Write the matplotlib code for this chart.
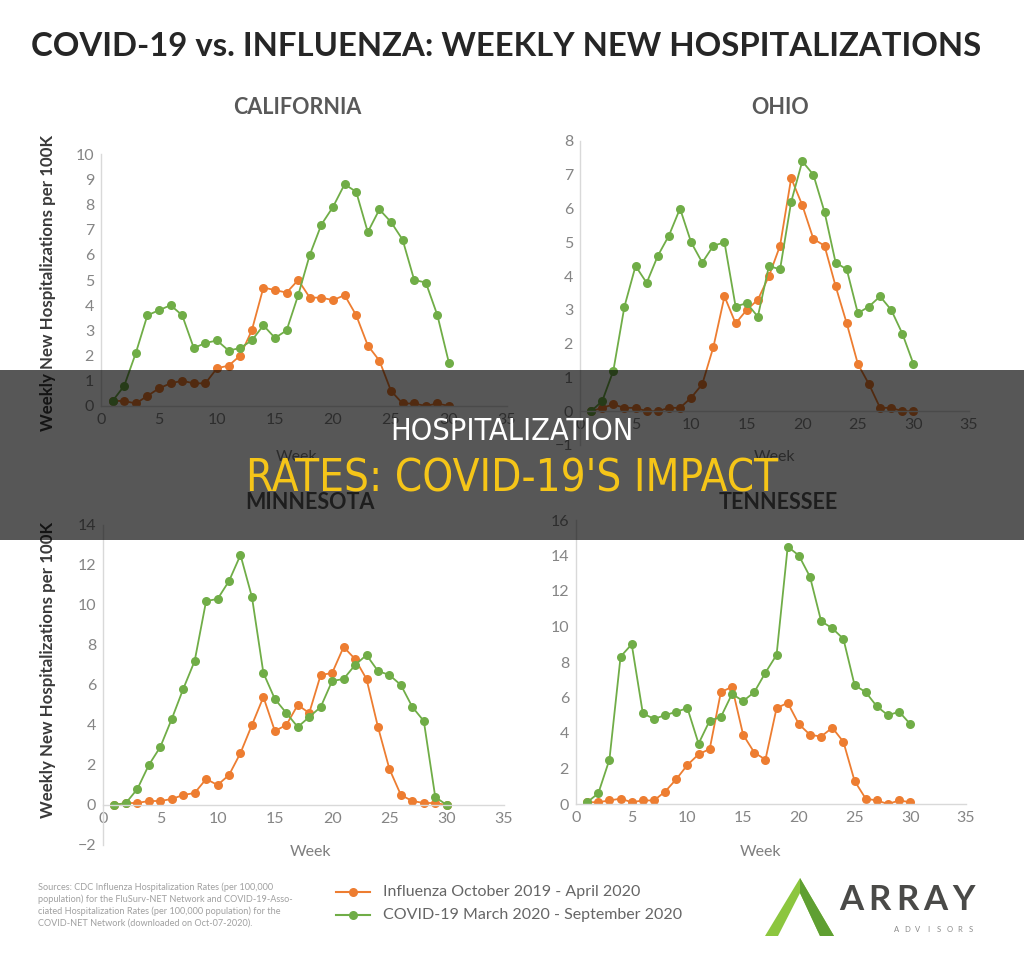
import numpy as np
import matplotlib.pyplot as plt
from matplotlib.patches import Rectangle, Polygon

# data (weeks 1..30)
weeks = list(range(1, 31))

ca_flu = [0.2, 0.2, 0.1, 0.4, 0.7, 0.9, 1.0, 0.9, 0.9, 1.5, 1.6, 2.0, 3.0, 4.7, 4.6,
          4.5, 5.0, 4.3, 4.3, 4.2, 4.4, 3.6, 2.4, 1.8, 0.6, 0.1, 0.1, 0.0, 0.1, 0.0]
ca_covid = [0.2, 0.8, 2.1, 3.6, 3.8, 4.0, 3.6, 2.3, 2.5, 2.6, 2.2, 2.3, 2.6, 3.2, 2.7,
            3.0, 4.4, 6.0, 7.2, 7.9, 8.8, 8.5, 6.9, 7.8, 7.3, 6.6, 5.0, 4.9, 3.6, 1.7]

oh_flu = [0.0, 0.1, 0.2, 0.1, 0.1, 0.0, 0.0, 0.1, 0.1, 0.4, 0.8, 1.9, 3.4, 2.6, 3.0,
          3.3, 4.0, 4.9, 6.9, 6.1, 5.1, 4.9, 3.7, 2.6, 1.4, 0.8, 0.1, 0.1, 0.0, 0.0]
oh_covid = [0.0, 0.3, 1.2, 3.1, 4.3, 3.8, 4.6, 5.2, 6.0, 5.0, 4.4, 4.9, 5.0, 3.1, 3.2,
            2.8, 4.3, 4.2, 6.2, 7.4, 7.0, 5.9, 4.4, 4.2, 2.9, 3.1, 3.4, 3.0, 2.3, 1.4]

mn_flu = [0.0, 0.1, 0.1, 0.2, 0.2, 0.3, 0.5, 0.6, 1.3, 1.0, 1.5, 2.6, 4.0, 5.4, 3.7,
          4.0, 5.0, 4.6, 6.5, 6.6, 7.9, 7.3, 6.3, 3.9, 1.8, 0.5, 0.2, 0.1, 0.1, 0.0]
mn_covid = [0.0, 0.1, 0.8, 2.0, 2.9, 4.3, 5.8, 7.2, 10.2, 10.3, 11.2, 12.5, 10.4, 6.6, 5.3,
            4.6, 3.9, 4.4, 4.9, 6.2, 6.3, 7.0, 7.5, 6.7, 6.5, 6.0, 4.9, 4.2, 0.4, 0.0]

tn_flu = [0.1, 0.1, 0.2, 0.3, 0.1, 0.2, 0.2, 0.7, 1.4, 2.2, 2.8, 3.1, 6.3, 6.6, 3.9,
          2.9, 2.5, 5.4, 5.7, 4.5, 3.9, 3.8, 4.3, 3.5, 1.3, 0.3, 0.2, 0.0, 0.2, 0.1]
tn_covid = [0.1, 0.6, 2.5, 8.3, 9.0, 5.1, 4.8, 5.0, 5.2, 5.4, 3.4, 4.7, 4.9, 6.2, 5.8,
            6.3, 7.4, 8.4, 14.5, 14.0, 12.8, 10.3, 9.9, 9.3, 6.7, 6.3, 5.5, 5.0, 5.2, 4.5]

states = ['CALIFORNIA', 'OHIO', 'MINNESOTA', 'TENNESSEE']
flu_label = 'Influenza October 2019 - April 2020'
covid_label = 'COVID-19 March 2020 - September 2020'

ORANGE = '#ED7D31'
GREEN = '#70AD47'
W, H = 1024, 976
FONT = ['Lato', 'DejaVu Sans']

plt.rcParams['font.family'] = FONT

fig = plt.figure(figsize=(W / 100, H / 100), dpi=100)
fig.patch.set_facecolor('white')


def px(x, y):
    # pixel position -> figure fraction
    return x / W, 1 - y / H


def axes_at(x0, x1, ytop, ybot):
    l, t = px(x0, ytop)
    r, b = px(x1, ybot)
    return fig.add_axes([l, b, r - l, t - b])


def panel(ax, flu, covid, ylim, ystep):
    ax.plot(weeks, flu, color=ORANGE, lw=1.3, marker='o', ms=6.5, mew=0)
    ax.plot(weeks, covid, color=GREEN, lw=1.3, marker='o', ms=6.5, mew=0)
    ax.set_xlim(0, 35)
    ax.set_ylim(*ylim)
    ax.set_xticks(range(0, 36, 5))
    ax.set_yticks(np.arange(ylim[0], ylim[1] + 0.1, ystep))
    for s in ['top', 'right']:
        ax.spines[s].set_visible(False)
    ax.spines['bottom'].set_position(('data', 0))
    for s in ['bottom', 'left']:
        ax.spines[s].set_color('#d9d9d9')
        ax.spines[s].set_linewidth(1)
    ax.tick_params(length=0, labelsize=11.5, labelcolor='#858585', pad=5)
    ax.patch.set_alpha(0)


ax1 = axes_at(101, 507, 154, 406)
panel(ax1, ca_flu, ca_covid, (0, 10), 1)
ax2 = axes_at(580, 969, 141, 445)
panel(ax2, oh_flu, oh_covid, (-1, 8), 1)
ax3 = axes_at(103, 504, 525, 845)
panel(ax3, mn_flu, mn_covid, (-2, 14), 2)
ax4 = axes_at(576, 966, 520, 804)
panel(ax4, tn_flu, tn_covid, (0, 16), 2)

# titles
fig.text(*px(506, 47), 'COVID-19 vs. INFLUENZA: WEEKLY NEW HOSPITALIZATIONS',
         ha='center', va='center', fontsize=23.7, fontweight='bold', color='#262626')
for name, (x, y) in zip(states, [(297, 107), (780, 107), (310, 502), (778, 502)]):
    fig.text(*px(x, y), name, ha='center', va='center', fontsize=15.5,
             fontweight='bold', color='#595959')

for x, y in [(296, 457), (775, 457), (310, 852), (760, 852)]:
    fig.text(*px(x, y), 'Week', ha='center', va='center', fontsize=11.5, color='#7f7f7f')

for y in [283, 670]:
    fig.text(*px(48, y), 'Weekly New Hospitalizations per 100K', rotation=90,
             ha='center', va='center', fontsize=12.2, fontweight='bold', color='#3a3a3a')

# sources
fig.text(*px(38, 882), 'Sources: CDC Influenza Hospitalization Rates (per 100,000\n'
         'population) for the FluSurv-NET Network and COVID-19-Asso-\n'
         'ciated Hospitalization Rates (per 100,000 population) for the\n'
         'COVID-NET Network (downloaded on Oct-07-2020).',
         ha='left', va='top', fontsize=6.6, color='#a0a0a0', linespacing=1.35)

# legend
lax = fig.add_axes([0, 0, 1, 1], zorder=-1)
lax.set_xlim(0, W)
lax.set_ylim(H, 0)
lax.axis('off')
for lab, col, y in [(flu_label, ORANGE, 892), (covid_label, GREEN, 915)]:
    lax.plot([336, 370], [y, y], color=col, lw=1.5)
    lax.plot([353], [y], 'o', color=col, ms=6.5, mew=0)
    lax.text(383, y, lab, ha='left', va='center', fontsize=11.5, color='#666666')

# logo
lax.add_patch(Polygon([(765, 936), (800, 878), (834, 936), (820, 936), (800, 893), (778, 936)],
                      closed=True, color='#8cc63f', lw=0))
lax.add_patch(Polygon([(800, 893), (800, 878), (834, 936), (820, 936)],
                      closed=True, color='#5f9f32', lw=0))
for i, ch in enumerate('ARRAY'):
    lax.text(851 + 28 * i, 900, ch, ha='center', va='center', fontsize=25,
             fontweight='bold', color='#4a4a48')
for i, ch in enumerate('ADVISORS'):
    lax.text(897 + 10.5 * i, 929, ch, ha='center', va='center', fontsize=5.5,
             color='#8a8a8a')

# dark banner over the middle
fig.add_artist(Rectangle(px(0, 540), 1, 170 / H, transform=fig.transFigure,
                         facecolor='black', alpha=0.66, lw=0, zorder=10))
fig.text(*px(512, 432), 'HOSPITALIZATION', ha='center', va='center', fontsize=22,
         color='white', family='DejaVu Sans', fontstretch='condensed', zorder=11)
fig.text(*px(512, 479), "RATES: COVID-19'S IMPACT", ha='center', va='center', fontsize=31.5,
         color='#f5c518', family='DejaVu Sans', fontstretch='condensed', zorder=11)

fig.savefig('out.png', dpi=100)
